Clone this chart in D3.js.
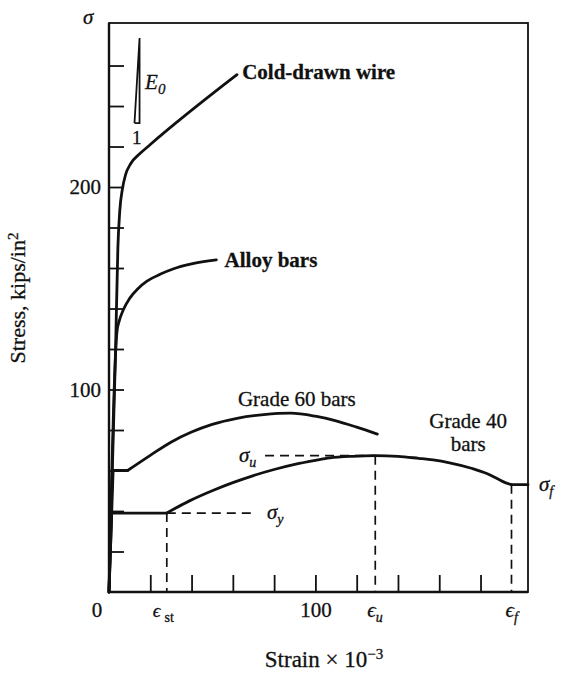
<!DOCTYPE html>
<html>
<head>
<meta charset="utf-8">
<script src="https://cdn.jsdelivr.net/npm/d3@7"></script>
<style>
  html, body { margin: 0; padding: 0; background: #fff; }
  svg { display: block; }
  text { font-family: "Liberation Serif", "Times New Roman", serif; fill: #111; stroke: #111; stroke-width: 0.3; }
</style>
</head>
<body>
<svg id="chart" width="561" height="673"></svg>
<script>
// Stress–strain curves for reinforcing steels (strain in 10^-3, stress in kips/in^2)
const strainTicks = [20, 40, 60, 80, 100, 120, 140, 160, 180];
const stressTicks = [20, 40, 60, 80, 100, 120, 140, 160, 180, 200, 220, 240, 260];
const strainLabels = [100];
const stressLabels = [100, 200];

const coldDrawnWire = [[0, 0], [3.2, 120], [4.3, 170], [5.2, 188], [6.5, 199], [8, 206], [10.5, 211.5], [15, 216.5], [20, 221], [62, 255.5]];
const alloyBars = [[0, 0], [3.3, 120], [3.9, 129], [5, 134], [7, 139.5], [10, 145], [14, 149.8], [18.4, 153.5], [25, 157], [31, 159.5], [40, 162], [52, 164]];
const grade60Plateau = [[0, 0], [2, 60], [9, 60]];
const grade60Hardening = [[9, 60], [20, 67.5], [30, 74], [40, 79], [50, 82.8], [62, 85.8], [75, 87.6], [88, 88.3], [100, 86.8], [110, 84.5], [120, 81.4], [130, 78]];
const grade40Plateau = [[0, 0], [1.3, 39], [28, 39]];
const grade40Hardening = [[28, 39], [39, 45], [50, 50], [60, 54], [70, 57.5], [80, 60.5], [90, 63], [100, 65], [107, 66.2], [118, 67], [129, 67.3], [140, 67], [150, 66], [157, 65.2], [165, 63.8], [176, 61], [183, 58.5], [188, 56], [192, 54], [195, 53]];
const grade40Fracture = [[195, 53], [203, 53]];

// Characteristic points of the Grade 40 curve
const epsSt = 28, epsU = 129, epsF = 195;
const sigmaY = 39, sigmaU = 67.3, sigmaF = 53;

// Slope triangle for the initial modulus E0
const slopeTriangle = [[12.35, 231.6], [14.8, 273.6], [14.8, 231.6], [12.35, 231.6]];

const svg = d3.select("#chart");
const x = d3.scaleLinear().domain([0, 203]).range([109, 528]);
const y = d3.scaleLinear().domain([0, 281]).range([592, 23]);

// Frame
svg.append("rect")
  .attr("x", x(0)).attr("y", y(281))
  .attr("width", x(203) - x(0)).attr("height", y(0) - y(281))
  .attr("fill", "none").attr("stroke", "#111").attr("stroke-width", 1.8);
svg.append("path")
  .attr("d", `M${x(0)},${y(281)}V${y(0)}H${x(203)}`)
  .attr("fill", "none").attr("stroke", "#111").attr("stroke-width", 2.4);

// Axes with inward ticks
const yAxis = d3.axisLeft(y).tickValues(stressTicks).tickSize(-15).tickPadding(8)
  .tickFormat(d => stressLabels.includes(d) ? d : "");
const gy = svg.append("g").attr("transform", `translate(${x(0)},0)`).call(yAxis);
const xAxis = d3.axisBottom(x).tickValues(strainTicks).tickSize(-17).tickPadding(10)
  .tickFormat(d => strainLabels.includes(d) ? d : "");
const gx = svg.append("g").attr("transform", `translate(0,${y(0)})`).call(xAxis);
[gx, gy].forEach(g => {
  g.select(".domain").remove();
  g.selectAll(".tick line").attr("stroke", "#111").attr("stroke-width", 1.8);
  g.selectAll(".tick text").attr("font-size", 21).attr("fill", "#111")
    .attr("font-family", "Liberation Serif, serif");
});
svg.append("text").attr("x", 97).attr("y", 617).attr("text-anchor", "middle")
  .attr("font-size", 21).text("0");

// Curves
const smooth = d3.line().x(d => x(d[0])).y(d => y(d[1])).curve(d3.curveMonotoneX);
const straight = d3.line().x(d => x(d[0])).y(d => y(d[1]));
const curveStyle = sel => sel.attr("fill", "none").attr("stroke", "#111")
  .attr("stroke-width", 2.8).attr("stroke-linejoin", "round").attr("stroke-linecap", "round");

[coldDrawnWire, alloyBars, grade60Hardening, grade40Hardening].forEach(s =>
  svg.append("path").attr("d", smooth(s)).call(curveStyle));
[grade60Plateau, grade40Plateau, grade40Fracture].forEach(s =>
  svg.append("path").attr("d", straight(s)).call(curveStyle));

// Dashed construction lines
const dashed = [
  [[75.6, sigmaU], [epsU, sigmaU]],
  [[epsU, sigmaU], [epsU, 0]],
  [[epsSt, sigmaY], [70, sigmaY]],
  [[epsSt, sigmaY], [epsSt, 0]],
  [[epsF, sigmaF], [epsF, 0]]
];
dashed.forEach(s => svg.append("path").attr("d", straight(s))
  .attr("fill", "none").attr("stroke", "#111").attr("stroke-width", 1.7)
  .attr("stroke-dasharray", "9,6"));

// E0 slope triangle
svg.append("path").attr("d", straight(slopeTriangle))
  .attr("fill", "none").attr("stroke", "#111").attr("stroke-width", 1.8);
svg.append("text").attr("x", x(13.4)).attr("y", y(231.6) + 21)
  .attr("text-anchor", "middle").attr("font-size", 19).text("1");
const e0 = svg.append("text").attr("x", x(17.5)).attr("y", y(248.5))
  .attr("font-size", 21).attr("font-style", "italic");
e0.append("tspan").text("E");
e0.append("tspan").attr("dy", 5).attr("font-size", 15).text("0");

// Curve labels
svg.append("text").attr("x", x(64.5)).attr("y", y(255.5) + 4).attr("font-size", 21)
  .attr("font-weight", "bold").text("Cold-drawn wire");
svg.append("text").attr("x", x(56)).attr("y", y(164) + 7).attr("font-size", 21)
  .attr("font-weight", "bold").text("Alloy bars");
svg.append("text").attr("x", x(91)).attr("y", y(95.5) + 7).attr("text-anchor", "middle")
  .attr("font-size", 21).text("Grade 60 bars");
svg.append("text").attr("x", x(174)).attr("y", y(84.6) + 7).attr("text-anchor", "middle")
  .attr("font-size", 21).text("Grade 40");
svg.append("text").attr("x", x(174)).attr("y", y(73) + 7).attr("text-anchor", "middle")
  .attr("font-size", 21).text("bars");

// Symbol labels: text, subscript, anchor point
function symbol(px, py, main, sub, size) {
  const t = svg.append("text").attr("x", px).attr("y", py)
    .attr("font-size", size || 21).attr("font-style", "italic");
  t.append("tspan").text(main);
  if (sub) t.append("tspan").attr("dy", 5).attr("font-size", 14).text(sub);
  return t;
}
symbol(83, 24, "σ");
symbol(239, y(sigmaU) + 6, "σ", "u");
symbol(x(76.5), y(sigmaY) + 6, "σ", "y");
symbol(539, y(sigmaF) + 6, "σ", "f");
symbol(x(epsSt) - 14, 617, "ϵ", null, 19).append("tspan").attr("dx", 4).attr("dy", 5)
  .attr("font-size", 14).attr("font-style", "normal").text("st");
symbol(x(epsU) - 8, 617, "ϵ", "u");
symbol(x(epsF) - 6, 617, "ϵ", "f");

// Axis titles
svg.append("text").attr("transform", `translate(25,298) rotate(-90)`)
  .attr("text-anchor", "middle").attr("font-size", 22)
  .call(t => {
    t.append("tspan").text("Stress, kips/in");
    t.append("tspan").attr("dy", -7).attr("font-size", 15).text("2");
  });
svg.append("text").attr("x", 324).attr("y", 667).attr("text-anchor", "middle")
  .attr("font-size", 23)
  .call(t => {
    t.append("tspan").text("Strain × 10");
    t.append("tspan").attr("dy", -8).attr("font-size", 15).text("−3");
  });
</script>
</body>
</html>
